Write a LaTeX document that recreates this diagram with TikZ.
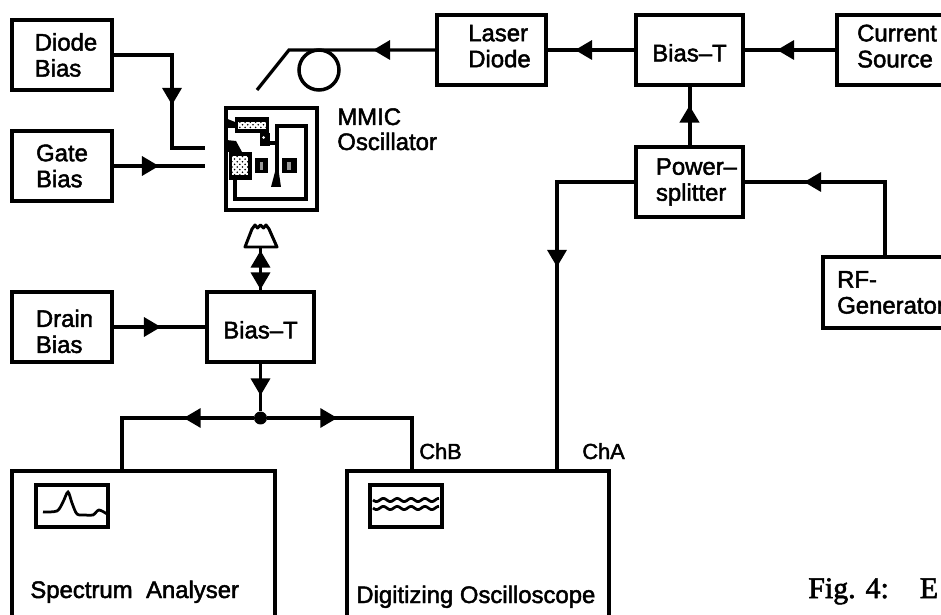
\documentclass[tikz,border=0pt]{standalone}
\usepackage{fontspec}
\setmainfont{Liberation Sans}[FakeBold=2]
\newfontfamily\capfont{Liberation Serif}[FakeBold=2]
\usetikzlibrary{arrows.meta,decorations.markings,patterns}
\tikzset{
  >={Triangle[length=.34cm,width=.38cm]},
  blockbox/.style={draw,line width=.08cm,inner sep=0pt,minimum height=1.42cm,align=left,
    font=\fontsize{13.6}{14.8}\selectfont},
  conn/.style={line width=.065cm},
  midarrow/.style={postaction={decorate},decoration={markings,mark=at position #1 with {\arrow{>}}}},
  plaintext/.style={inner sep=0pt,anchor=base west,font=\fontsize{13.6}{14.8}\selectfont},
  screenbox/.style={draw,line width=.07cm,minimum width=1.44cm,minimum height=.84cm,inner sep=0pt},
  trace/.style={line width=.055cm},
  chiptrack/.style={line width=.07cm},
  chipdots/.style={fill=white,postaction={pattern=crosshatch dots}},
}
\begin{document}
\begin{tikzpicture}[x=.02cm,y=-.02cm]
  \useasboundingbox (0,0) rectangle (941,615);
  % left column
  \node[blockbox,minimum width=2cm] (diode) at (62,55) {\hspace*{.16cm}Diode\\\hspace*{.16cm}Bias};
  \node[blockbox,minimum width=2cm] (gate) at (62,166) {Gate\\Bias};
  \node[blockbox,minimum width=2cm,text height=1.04cm] (drain) at (62,327) {\hspace*{.1cm}Drain\\\hspace*{.1cm}Bias};
  \node[blockbox,minimum width=2.14cm,text height=.46cm] (biaslow) at (260.5,327) {Bias--T};
  % top row
  \node[blockbox,minimum width=2.18cm,text depth=.16cm] (laser) at (491.5,50) {\hspace*{.32cm}Laser\\\hspace*{.32cm}Diode};
  \node[blockbox,minimum width=2.14cm,text height=.46cm] (biastop) at (689.5,50) {Bias--T};
  \node[blockbox,minimum width=2.4cm,text depth=.16cm] (current) at (897,50) {Current\\Source};
  \node[blockbox,minimum width=2.14cm] (power) at (689.5,182) {\hspace*{.28cm}Power--\\\hspace*{.28cm}splitter};
  \node[blockbox,minimum width=2.72cm] (rfgen) at (891,292.5) {RF-\\Generator};
  % instruments, both run off the bottom edge
  \node[draw,line width=.08cm,minimum width=5.26cm,minimum height=3.3cm,inner sep=0pt] (spectrum) at (143.5,553) {};
  \node[draw,line width=.08cm,minimum width=5.26cm,minimum height=3.3cm,inner sep=0pt] (scope) at (478,553) {};
  \node[screenbox] (spscreen) at (72,506) {};
  \node[screenbox] (scscreen) at (406,506) {};
  \node[plaintext] (sptext) at (30,598) {Spectrum\hspace{.27cm}Analyser};
  \node[plaintext] (sctext) at (356,603) {Digitizing Oscilloscope};
  \node[plaintext,font=\fontsize{12.4}{14}\selectfont] (chb) at (419,459) {ChB};
  \node[plaintext,font=\fontsize{12.4}{14}\selectfont] (cha) at (582,459) {ChA};
  \node[plaintext,align=left] (mmictext) at (337,150) {MMIC\\[-.02cm]Oscillator};
  \node[inner sep=0pt,anchor=base west,font=\capfont\fontsize{17}{20}\selectfont] (caption) at (808,598) {Fig. 4:\hspace{.62cm}E};
  \draw[trace] plot[smooth,tension=.5] coordinates {(43,512) (57,511) (63,502) (68,492) (72,503) (77,514) (85,515) (93,515) (99,510) (107,514)};
  \foreach \y in {500,508}
    \draw[trace] plot[domain=0:66,samples=50] ({373+\x},{\y+1.6*sin(\x*26)});
  % chip
  \node[draw,line width=.08cm,minimum width=1.84cm,minimum height=2.04cm,inner sep=0pt] (mmic) at (271.5,159) {};
  \fill (235,117) rectangle (269,133);
  \path[chipdots] (238,122) rectangle (266,129);
  \fill (260,133) rectangle (270,146);
  \fill[white] (263.7,137.5) circle (.03cm);
  \fill (225,118) -- (235,122) -- (235,128) -- (225,128) -- cycle;
  \fill (229,152) rectangle (252,180);
  \path[chipdots] (232,156) rectangle (248,175);
  \fill (226,140) -- (236,141) -- (242,152) -- (226,152) -- cycle;
  \fill (255,158) rectangle (268,173);
  \fill[black!40] (260,162) rectangle (263,170);
  \fill (282,158) rectangle (297,173);
  \fill[black!40] (287,162) rectangle (291,170);
  \draw[chiptrack] (268,143) -- (277,143);
  \draw[chiptrack] (277,176) -- (277,126) -- (306,126) -- (306,199) -- (235,199) -- (235,178);
  \fill (275.5,170) -- (278.5,170) -- (281,187) -- (271,187) -- cycle;
  % probe
  \coordinate (probe) at (260.5,247);
  \draw[line width=.06cm,line join=round] (245,247) -- (252,229) -- (255,225) -- (257.5,228) -- (260.5,225) -- (263.5,228) -- (266,225) -- (269,229) -- (277,247) -- cycle;
  % fibre
  \node[circle,draw,line width=.07cm,minimum size=.8cm,inner sep=0pt] (coil) at (319,70) {};
  \coordinate (bend) at (289,50);
  \coordinate (fibreend) at (257,90);
  \coordinate (diodeend) at (205,148);
  \coordinate (gateend) at (205,166);
  \coordinate (spin) at (122,471);
  \coordinate (chbin) at (412,471);
  \coordinate (chain) at (557,471);
  \coordinate (rfout) at (885,257);
  % connectors
  \draw[conn,midarrow=1.24cm] (laser.west) -- (bend) -- (fibreend);
  \draw[conn,midarrow=1.18cm] (biastop.west) -- (laser.east);
  \draw[conn,midarrow=1.16cm] (current.west) -- (biastop.east);
  \draw[conn,line width=.08cm,midarrow=.78cm] (power.north) -- (biastop.south);
  \draw[conn,midarrow=3.12cm] (rfout) |- (power.east);
  \draw[conn,midarrow=3.24cm] (power.west) -| (chain);
  \draw[conn,midarrow=2.16cm] (diode.east) -| (172,148) -- (diodeend);
  \draw[conn,midarrow=.9cm] (gate.east) -- (gateend);
  \draw[conn,midarrow=.94cm] (drain.east) -- (biaslow.west);
  \draw[conn,midarrow=.78cm] (biaslow.north) -- (probe);
  \draw[conn,midarrow=.85cm] (probe) -- (biaslow.north);
  \node[circle,fill,inner sep=0pt,minimum size=.26cm] (junction) at (260.5,418) {};
  \draw[conn,midarrow=.62cm] (biaslow.south) -- (junction);
  \draw[conn,midarrow=1.4cm] (junction) -| (spin);
  \draw[conn,midarrow=1.4cm] (junction) -| (chbin);
\end{tikzpicture}
\end{document}
